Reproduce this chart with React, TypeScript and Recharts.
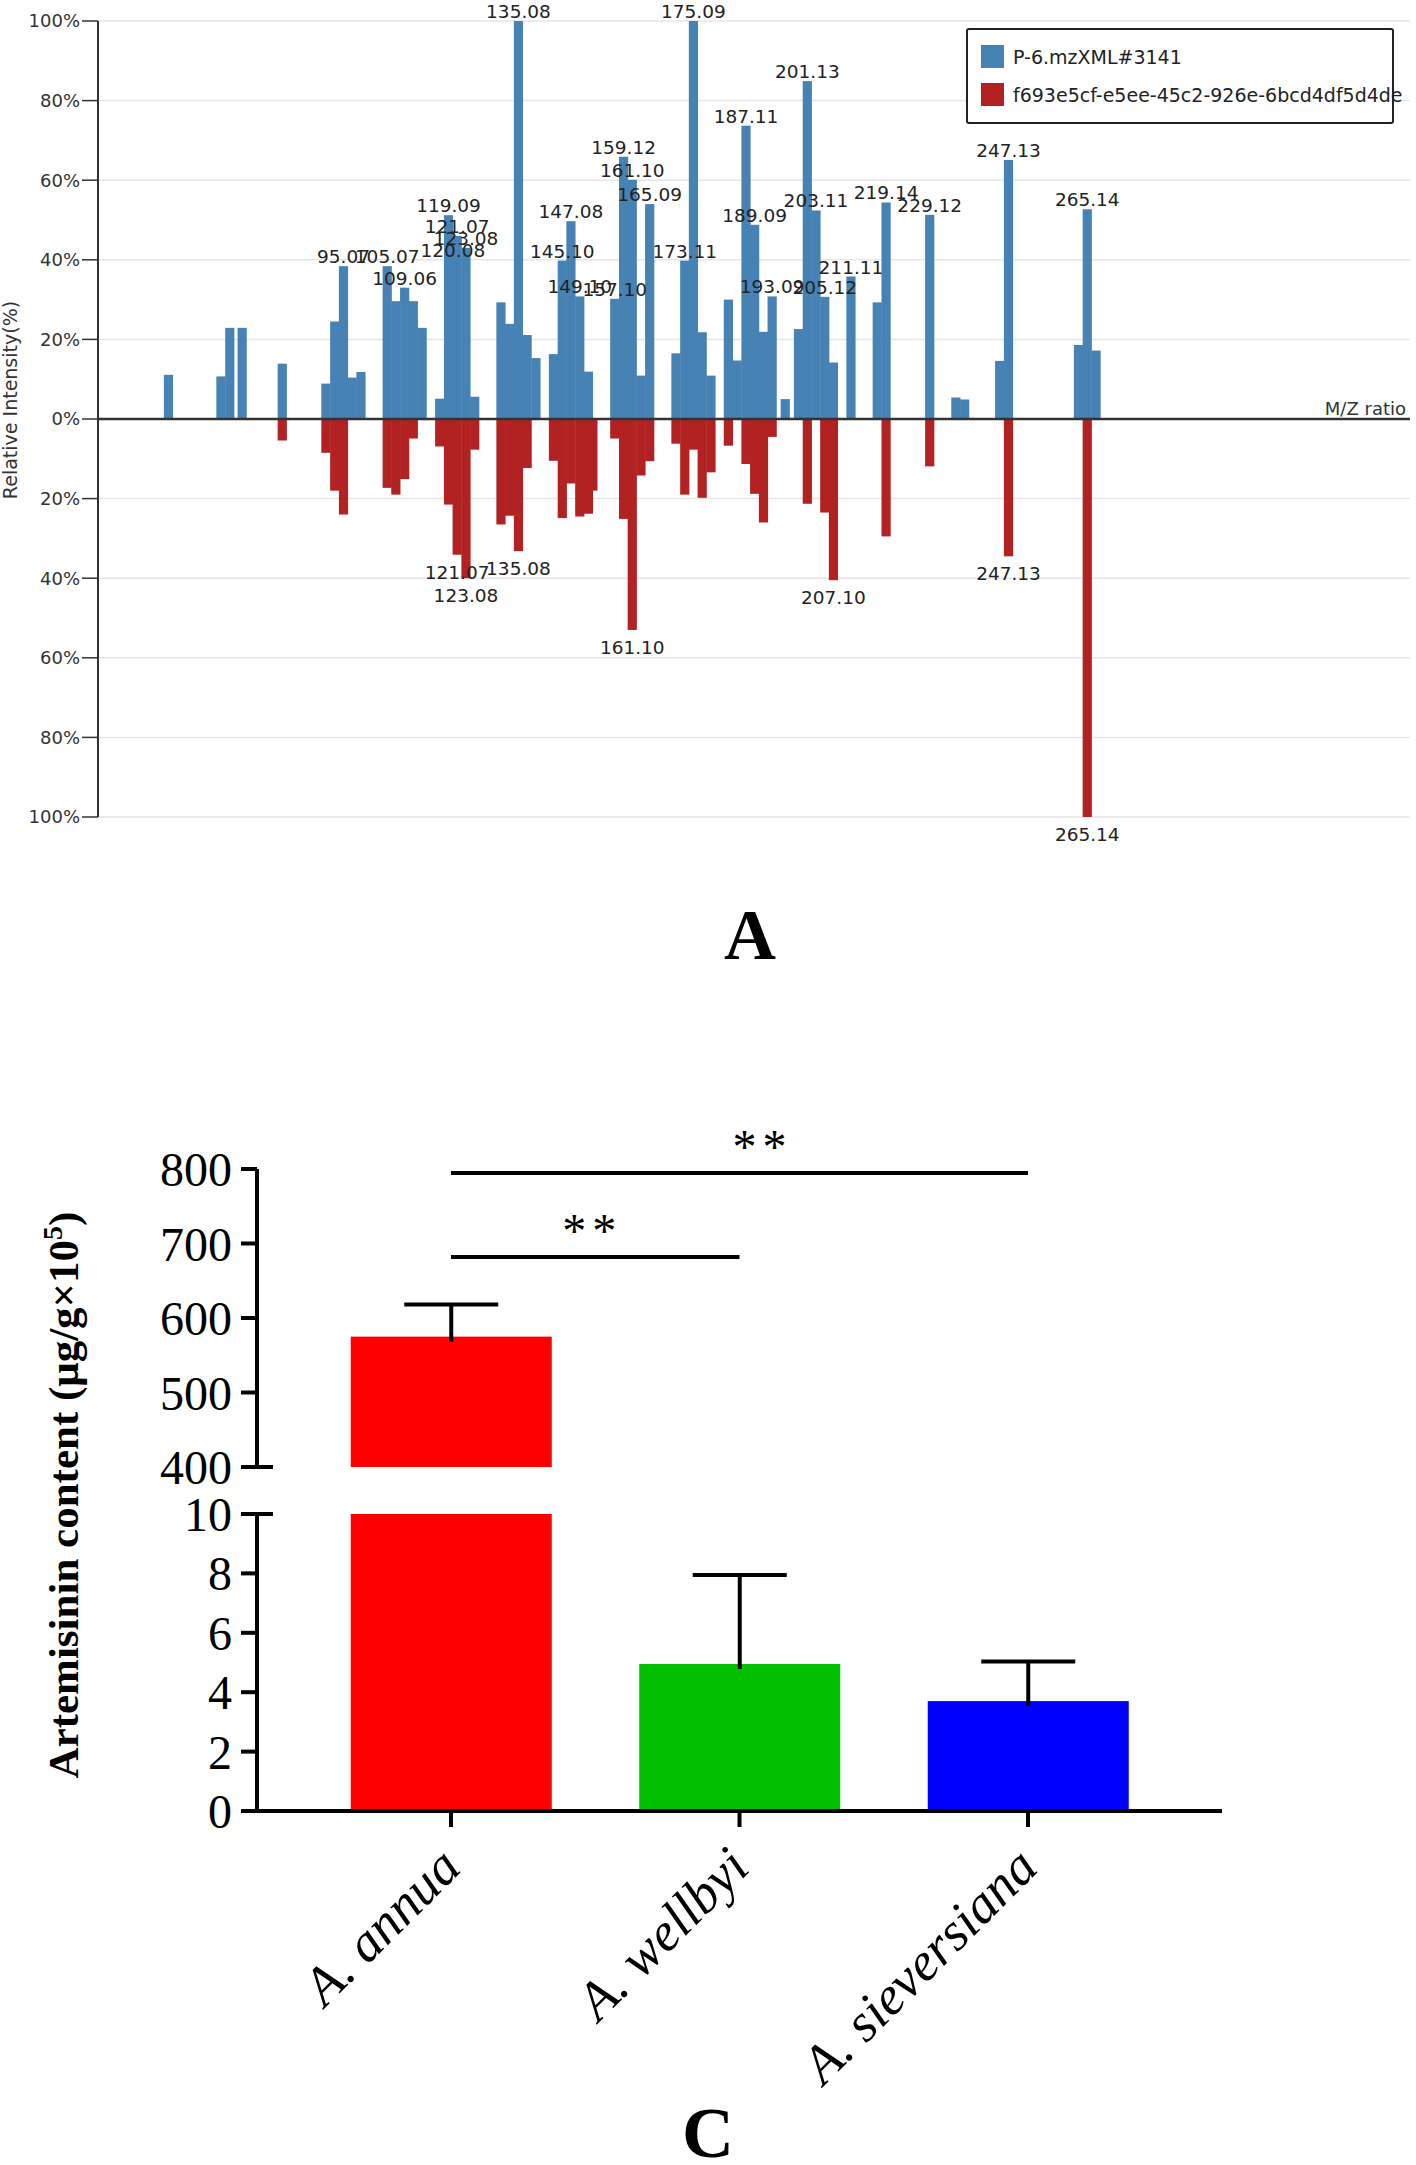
import React from 'react';
import { BarChart, Bar, XAxis, YAxis, CartesianGrid, ReferenceLine, LabelList, Legend, Cell } from 'recharts';

// ---- panel A: mirrored MS/MS spectrum ----
const peakMz = [
  55.05, 67.05, 69.07, 71.9, 81.07, 91.05, 93.07, 95.07, 97.07, 99.07,
  105.07, 107.05, 109.06, 111.04, 113.05, 117.07, 119.09, 120.08, 121.07, 123.08,
  125.08, 131.08, 133.07, 135.08, 137.06, 139.08, 143.08, 145.1, 147.08, 149.1,
  151.08, 152.1, 157.1, 159.12, 161.1, 163.09, 165.09, 171.09, 173.11, 175.09,
  177.09, 179.1, 183.08, 185.09, 187.11, 189.09, 191.1, 193.09, 196.08, 199.11,
  201.13, 203.11, 205.12, 207.1, 211.11, 217.12, 219.14, 229.12, 235.1, 237.11,
  245.12, 247.13, 263.13, 265.14, 267.15,
];
// relative intensity (%) of the sample scan, drawn upwards
const sampleIntensity = [
  11.1, 10.7, 22.9, 22.9, 13.9, 8.9, 24.5, 38.4, 10.4, 11.8,
  38.4, 29.6, 33.0, 29.6, 22.9, 5.1, 51.2, 40.0, 46.0, 43.0,
  5.6, 29.3, 23.9, 100, 21.1, 15.3, 16.3, 39.8, 49.7, 30.8,
  11.9, null, 30.2, 65.9, 60.1, 10.9, 54.0, 16.5, 39.8, 100,
  21.8, 10.9, 30.0, 14.7, 73.7, 48.8, 21.9, 30.8, 5.0, 22.6,
  84.9, 52.4, 30.7, 14.2, 35.8, 29.3, 54.4, 51.3, 5.4, 4.9,
  14.6, 65.1, 18.6, 52.7, 17.2,
];
// relative intensity (%) of the library spectrum, drawn downwards
const referenceIntensity = [
  null, null, null, null, 5.4, 8.5, 18.0, 24.0, null, null,
  17.3, 19.0, 15.1, 4.9, null, 6.9, 21.5, null, 34.1, 40.0,
  7.7, 26.5, 24.3, 33.2, 12.3, null, 10.5, 24.9, 16.2, 24.5,
  23.8, 18.0, 4.9, 25.1, 53.0, 14.2, 10.6, 6.2, 19.0, 7.7,
  19.8, 13.4, 6.7, null, 11.3, 18.8, 26.0, 4.5, null, null,
  21.3, null, 23.5, 40.5, null, null, 29.5, 11.9, null, null,
  null, 34.5, null, 100, null,
];
const sampleLabelled = [
  95.07, 105.07, 109.06, 119.09, 120.08, 121.07, 123.08, 135.08, 145.1, 147.08,
  149.1, 157.1, 159.12, 161.1, 165.09, 173.11, 175.09, 187.11, 189.09, 193.09,
  201.13, 203.11, 205.12, 211.11, 219.14, 229.12, 247.13, 265.14,
];
const referenceLabelled = [121.07, 123.08, 135.08, 161.1, 207.1, 247.13, 265.14];
const intensityTicks = [-100, -80, -60, -40, -20, 0, 20, 40, 60, 80, 100];

// ---- panel C: artemisinin content ----
const species = ['A. annua', 'A. wellbyi', 'A. sieversiana'];
const contentMean = [575, 4.95, 3.7];
const contentSd = [43, 3.0, 1.33];
const upperTicks = [400, 500, 600, 700, 800];
const lowerTicks = [0, 2, 4, 6, 8, 10];
const bracketLevels = [794.6, 682];

const BLUE = '#4682b4';
const RED = '#b22222';
const barColors = ['#ff0000', '#00c000', '#0000ff'];
const SANS = '"DejaVu Sans", sans-serif';
const SERIF = '"Liberation Serif", "Times New Roman", serif';
const PEAK_W = 9.2;

const spectrumRows = peakMz.map((mz, i) => ({
  mz,
  sample: sampleIntensity[i],
  reference: referenceIntensity[i] == null ? null : -(referenceIntensity[i] as number),
  sampleTag: sampleLabelled.includes(mz) ? mz.toFixed(2) : undefined,
  referenceTag: referenceLabelled.includes(mz) ? mz.toFixed(2) : undefined,
}));

const upperRows = species.map((name, i) => ({
  name,
  value: contentMean[i] >= 400 ? contentMean[i] : null,
  err: contentMean[i] >= 400 ? contentSd[i] : null,
}));
const lowerRows = species.map((name, i) => ({
  name,
  value: Math.min(contentMean[i], 10),
  err: contentMean[i] <= 10 ? contentSd[i] : null,
}));

const geom = (p: any) => {
  const vb = p.viewBox && p.viewBox.width != null ? p.viewBox : p;
  const x = Number(vb.x), y = Number(vb.y), w = Number(vb.width), h = Number(vb.height);
  return { cx: x + w / 2, top: Math.min(y, y + h), bottom: Math.max(y, y + h), h: Math.abs(h) };
};

const PeakBar = (props: any) => {
  const g = geom(props);
  if (!g.h || isNaN(g.h)) return null;
  return <rect x={g.cx - PEAK_W / 2} y={g.top} width={PEAK_W} height={g.h} fill={props.fill} />;
};

const UpTag = (props: any) => {
  if (!props.value) return null;
  const g = geom(props);
  return (
    <text x={g.cx} y={g.top - 3} textAnchor="middle" fontSize={18.5} fontFamily={SANS} fill="#222">
      {props.value}
    </text>
  );
};

const DownTag = (props: any) => {
  if (!props.value) return null;
  const g = geom(props);
  return (
    <text x={g.cx} y={g.bottom + 24} textAnchor="middle" fontSize={18.5} fontFamily={SANS} fill="#222">
      {props.value}
    </text>
  );
};

const SpectrumLegend = ({ payload }: any) => (
  <div
    style={{
      width: 424,
      height: 92,
      border: '2px solid #222',
      borderRadius: 3,
      background: '#fff',
      fontFamily: SANS,
      fontSize: 19,
      color: '#222',
      position: 'relative',
    }}
  >
    {(payload ?? []).map((p: any, i: number) => (
      <div
        key={i}
        style={{ position: 'absolute', left: 13, top: 15 + i * 38, display: 'flex', alignItems: 'center', whiteSpace: 'nowrap' }}
      >
        <span style={{ width: 23, height: 23, background: p.color, display: 'inline-block', marginRight: 9 }} />
        <span>{p.value}</span>
      </div>
    ))}
  </div>
);

const makeContentBar = (base: number) => (props: any) => {
  const row = props.payload ?? props;
  const g = geom(props);
  if (row.value == null || !g.h || isNaN(g.h)) return null;
  const x = Number(props.x), w = Number(props.width);
  const perUnit = g.h / (row.value - base);
  const whiskerTop = row.err != null ? g.top - row.err * perUnit : null;
  return (
    <g>
      <rect x={x} y={g.top} width={w} height={g.h} fill={props.fill} />
      {whiskerTop != null && (
        <g stroke="#000" strokeWidth={4}>
          <line x1={g.cx} x2={g.cx} y1={g.top + 5} y2={whiskerTop} />
          <line x1={g.cx - 47} x2={g.cx + 47} y1={whiskerTop} y2={whiskerTop} />
        </g>
      )}
    </g>
  );
};

const BreakTick = (props: any) => {
  const { x, y, payload, breakAt } = props;
  const axisX = x + 16 + 9;
  return (
    <g>
      <text x={x} y={y} dy="0.355em" textAnchor="end" fontSize={48} fontFamily={SERIF} fill="#000">
        {payload.value}
      </text>
      {payload.value === breakAt && <line x1={axisX} x2={axisX + 16} y1={y} y2={y} stroke="#000" strokeWidth={4} />}
    </g>
  );
};

const SpeciesTick = (props: any) => {
  const { x, y, payload } = props;
  return (
    <g transform={`translate(${x + 12},${y + 41})`}>
      <text textAnchor="end" transform="rotate(-45)" fontSize={54} fontStyle="italic" fontFamily={SERIF} fill="#000">
        {payload.value}
      </text>
    </g>
  );
};

const starsLabel = (shift: number) => (props: any) => {
  const vb = props.viewBox ?? {};
  const cx = Number(vb.x) + Number(vb.width ?? 0) / 2 + shift;
  return (
    <text x={cx} y={Number(vb.y) - 10} textAnchor="middle" fontSize={48} letterSpacing={6} fontFamily={SERIF} fill="#000">
      **
    </text>
  );
};

const axisStroke = { stroke: '#000', strokeWidth: 4 };

export default function App() {
  return (
    <div style={{ position: 'absolute', left: 0, top: 0, width: 1416, height: 2165, background: '#fff', overflow: 'hidden' }}>
      <div style={{ position: 'absolute', left: 0, top: 0 }}>
        <BarChart
          width={1416}
          height={860}
          data={spectrumRows}
          stackOffset="sign"
          barCategoryGap={0}
          margin={{ top: 21, right: 6, bottom: 43, left: 0 }}
        >
          <CartesianGrid vertical={false} stroke="#e6e6e6" strokeWidth={1.5} />
          <XAxis dataKey="mz" type="number" domain={[38.9, 338.9]} allowDataOverflow hide />
          <YAxis
            width={98}
            domain={[-100, 100]}
            ticks={intensityTicks}
            interval={0}
            allowDataOverflow
            tickFormatter={(v: number) => `${Math.abs(v)}%`}
            axisLine={{ stroke: '#333', strokeWidth: 2 }}
            tickLine={{ stroke: '#333', strokeWidth: 1.5 }}
            tickSize={16}
            tickMargin={2}
            tick={{ fontSize: 18, fill: '#333', fontFamily: SANS }}
          />
          <Bar dataKey="sample" name="P-6.mzXML#3141" stackId="s" fill={BLUE} shape={PeakBar} isAnimationActive={false}>
            <LabelList dataKey="sampleTag" content={UpTag} />
          </Bar>
          <Bar
            dataKey="reference"
            name="f693e5cf-e5ee-45c2-926e-6bcd4df5d4de"
            stackId="s"
            fill={RED}
            shape={PeakBar}
            isAnimationActive={false}
          >
            <LabelList dataKey="referenceTag" content={DownTag} />
          </Bar>
          <ReferenceLine
            y={0}
            stroke="#333"
            strokeWidth={2.5}
            label={{ value: 'M/Z ratio', position: 'insideBottomRight', offset: 4, fill: '#333', fontSize: 18, fontFamily: SANS }}
          />
          <Legend
            layout="vertical"
            align="center"
            verticalAlign="middle"
            wrapperStyle={{ left: 966, top: 28, width: 'auto' }}
            content={SpectrumLegend}
          />
        </BarChart>
      </div>

      <div style={{ position: 'absolute', left: 0, top: 1100 }}>
        <BarChart width={1416} height={400} data={upperRows} margin={{ top: 69, right: 194, bottom: 33, left: 0 }}>
          <XAxis dataKey="name" hide padding={{ left: 49.75, right: 49.75 }} />
          <YAxis
            width={257}
            domain={[400, 800]}
            ticks={upperTicks}
            interval={0}
            allowDataOverflow
            axisLine={axisStroke}
            tickLine={axisStroke}
            tickSize={16}
            tickMargin={9}
            tick={<BreakTick breakAt={400} />}
          />
          <Bar dataKey="value" barSize={201} shape={makeContentBar(400)} isAnimationActive={false}>
            {species.map((s, i) => (
              <Cell key={s} fill={barColors[i]} />
            ))}
          </Bar>
          <ReferenceLine
            segment={[{ x: species[0], y: bracketLevels[0] }, { x: species[2], y: bracketLevels[0] }]}
            stroke="#000"
            strokeWidth={4}
            ifOverflow="visible"
            label={{ content: starsLabel(23) } as any}
          />
          <ReferenceLine
            segment={[{ x: species[0], y: bracketLevels[1] }, { x: species[1], y: bracketLevels[1] }]}
            stroke="#000"
            strokeWidth={4}
            ifOverflow="visible"
            label={{ content: starsLabel(-3) } as any}
          />
        </BarChart>
      </div>

      <div style={{ position: 'absolute', left: 0, top: 1480 }}>
        <BarChart width={1416} height={631} data={lowerRows} margin={{ top: 34, right: 194, bottom: 0, left: 0 }}>
          <XAxis
            dataKey="name"
            height={300}
            padding={{ left: 49.75, right: 49.75 }}
            axisLine={axisStroke}
            tickLine={axisStroke}
            tickSize={16}
            tickMargin={2}
            interval={0}
            tick={<SpeciesTick />}
          />
          <YAxis
            width={257}
            domain={[0, 10]}
            ticks={lowerTicks}
            interval={0}
            allowDataOverflow
            axisLine={axisStroke}
            tickLine={axisStroke}
            tickSize={16}
            tickMargin={9}
            tick={<BreakTick breakAt={10} />}
          />
          <Bar dataKey="value" barSize={201} shape={makeContentBar(0)} isAnimationActive={false}>
            {species.map((s, i) => (
              <Cell key={s} fill={barColors[i]} />
            ))}
          </Bar>
        </BarChart>
      </div>

      <svg width={1416} height={2165} style={{ position: 'absolute', left: 0, top: 0, pointerEvents: 'none' }}>
        <text
          x={17}
          y={400}
          transform="rotate(-90, 17, 400)"
          textAnchor="middle"
          fontSize={19}
          fontFamily={SANS}
          fill="#333"
        >
          Relative Intensity(%)
        </text>
        <text x={750} y={959} textAnchor="middle" fontSize={72} fontWeight="bold" fontFamily={SERIF} fill="#000">
          A
        </text>
        <text
          x={78}
          y={1495}
          transform="rotate(-90, 78, 1495)"
          textAnchor="middle"
          fontSize={43}
          fontWeight="bold"
          fontFamily={SERIF}
          fill="#000"
        >
          Artemisinin content (μg/g×10
          <tspan dy={-16} fontSize={28}>5</tspan>
          <tspan dy={16}>)</tspan>
        </text>
        <text x={708} y={2157} textAnchor="middle" fontSize={72} fontWeight="bold" fontFamily={SERIF} fill="#000">
          C
        </text>
      </svg>
    </div>
  );
}
